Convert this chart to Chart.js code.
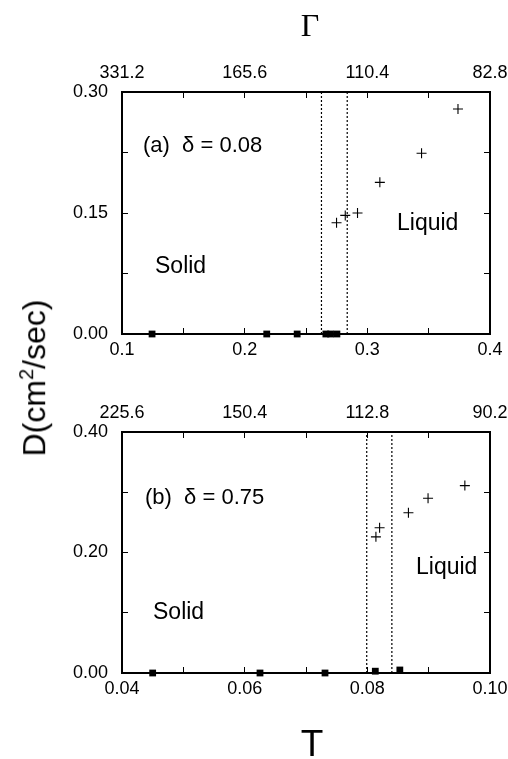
<!DOCTYPE html>
<html>
<head>
<meta charset="utf-8">
<script src="https://cdn.jsdelivr.net/npm/chart.js@4/dist/chart.umd.min.js"></script>
<style>
  body { margin: 0; background: #fff; width: 508px; height: 759px; position: relative; overflow: hidden; font-family: "Liberation Sans", Arial, sans-serif; }
  .box { position: absolute; left: 0; width: 508px; }
  .txt { position: absolute; line-height: 1; white-space: nowrap; color: #000; }
</style>
</head>
<body>
<div class="box" style="top:0;height:380px"><canvas id="chartA"></canvas></div>
<div class="box" style="top:380px;height:379px"><canvas id="chartB"></canvas></div>

<div class="txt" style="left:310px;top:25px;transform:translate(-50%,-50%);font-family:'Liberation Serif',serif;font-size:32px">Γ</div>
<div class="txt" style="left:312px;top:743px;transform:translate(-50%,-50%);font-size:37px">T</div>
<div class="txt" style="left:33px;top:378px;transform:translate(-50%,-50%) rotate(-90deg);font-size:32px">D(cm<sup style="font-size:20px">2</sup>/sec)</div>

<div class="txt" style="left:143px;top:134px;font-size:22px">(a)&nbsp;&nbsp;δ = 0.08</div>
<div class="txt" style="left:155px;top:254px;font-size:23px">Solid</div>
<div class="txt" style="left:397px;top:211px;font-size:23px">Liquid</div>

<div class="txt" style="left:145px;top:486px;font-size:22px">(b)&nbsp;&nbsp;δ = 0.75</div>
<div class="txt" style="left:153px;top:600px;font-size:23px">Solid</div>
<div class="txt" style="left:416px;top:555px;font-size:23px">Liquid</div>

<script>
// panel (a), delta = 0.08
const solidTA = [0.1245, 0.218, 0.2428, 0.2662, 0.2700, 0.2752];
const solidDA = [0, 0, 0, 0, 0, 0];
const liquidTA = [0.2749, 0.2820, 0.2920, 0.3102, 0.3442, 0.3739];
const liquidDA = [0.138, 0.147, 0.150, 0.188, 0.224, 0.279];
const boundaryA = [0.2626, 0.2836];
const xLabelsA = ['0.1', '0.2', '0.3', '0.4'];
const gammaLabelsA = ['331.2', '165.6', '110.4', '82.8'];
const yLabelsA = ['0.00', '0.15', '0.30'];

// panel (b), delta = 0.75
const solidTB = [0.0450, 0.0625, 0.0731, 0.0813, 0.0853];
const solidDB = [0, 0, 0, 0.003, 0.005];
const liquidTB = [0.0814, 0.0820, 0.0867, 0.0899, 0.0959];
const liquidDB = [0.226, 0.241, 0.266, 0.290, 0.311];
const boundaryB = [0.0799, 0.0840];
const xLabelsB = ['0.04', '0.06', '0.08', '0.10'];
const gammaLabelsB = ['225.6', '150.4', '112.8', '90.2'];
const yLabelsB = ['0.00', '0.20', '0.40'];

const tickFont = {family: "'Liberation Sans', Arial, sans-serif", size: 18};

function pts(xs, ys){
    return xs.map((x, i) => ({x: x, y: ys[i]}));
}

function makeAxis(pos, min, max, step, labels, size, pad){
    const isX = pos === 'top' || pos === 'bottom';
    return {
        type: 'linear',
        position: pos,
        min: min,
        max: max,
        border: {display: true, color: '#000', width: 2},
        grid: {drawOnChartArea: false, drawTicks: true, tickLength: -6, tickColor: '#000', tickWidth: 1},
        ticks: {
            stepSize: step,
            color: '#000',
            font: tickFont,
            padding: pad,
            maxRotation: 0,
            autoSkip: false,
            includeBounds: true,
            callback: function(value, index){
                if(!labels) return '';
                return index % 2 === 0 ? labels[index / 2] : '';
            }
        },
        afterFit: function(scale){
            // fixed box sizes so the plot frame sits where the figure has it
            if(isX) scale.height = size; else scale.width = size;
            scale.paddingLeft = 0;
            scale.paddingRight = 0;
            scale.paddingTop = 0;
            scale.paddingBottom = 0;
        }
    };
}

function createPanel(id, p){
    new Chart(document.getElementById(id), {
        type: 'scatter',
        data: {
            datasets: [
                {data: pts(p.solidT, p.solidD), pointStyle: 'rect', pointRadius: 4.8, backgroundColor: '#000', borderColor: '#000', borderWidth: 0, clip: false},
                {data: pts(p.liquidT, p.liquidD), pointStyle: 'cross', pointRadius: 5, borderColor: '#000', borderWidth: 1.1, clip: false},
                {data: [{x: p.bound[0], y: 0}, {x: p.bound[0], y: p.ymax}], showLine: true, pointRadius: 0, borderColor: '#000', borderWidth: 1.2, borderDash: [2, 2]},
                {data: [{x: p.bound[1], y: 0}, {x: p.bound[1], y: p.ymax}], showLine: true, pointRadius: 0, borderColor: '#000', borderWidth: 1.2, borderDash: [2, 2]}
            ]
        },
        options: {
            responsive: true,
            maintainAspectRatio: false,
            animation: false,
            layout: {padding: 0},
            plugins: {legend: {display: false}, tooltip: {enabled: false}},
            scales: {
                x: makeAxis('bottom', p.xmin, p.xmax, p.xstep, p.xLabels, p.bottomH, 11),
                x2: makeAxis('top', p.xmin, p.xmax, p.xstep, p.gLabels, p.topH, 14),
                y: makeAxis('left', 0, p.ymax, p.ystep, p.yLabels, 122, 20),
                y2: makeAxis('right', 0, p.ymax, p.ystep, null, 18, 0)
            }
        }
    });
}

createPanel('chartA', {
    solidT: solidTA, solidD: solidDA, liquidT: liquidTA, liquidD: liquidDA, bound: boundaryA,
    xmin: 0.1, xmax: 0.4, xstep: 0.05, ymax: 0.3, ystep: 0.075,
    xLabels: xLabelsA, gLabels: gammaLabelsA, yLabels: yLabelsA,
    topH: 92, bottomH: 46
});

createPanel('chartB', {
    solidT: solidTB, solidD: solidDB, liquidT: liquidTB, liquidD: liquidDB, bound: boundaryB,
    xmin: 0.04, xmax: 0.10, xstep: 0.01, ymax: 0.4, ystep: 0.1,
    xLabels: xLabelsB, gLabels: gammaLabelsB, yLabels: yLabelsB,
    topH: 52, bottomH: 86
});
</script>
</body>
</html>
